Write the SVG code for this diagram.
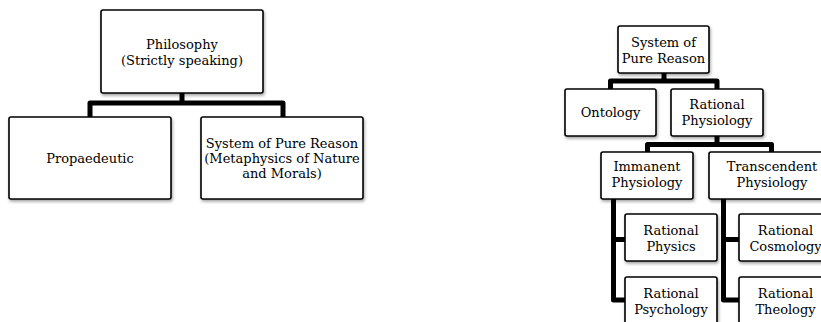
<svg xmlns="http://www.w3.org/2000/svg" width="821" height="322" viewBox="0 0 821 322">
<style>
.box{fill:#fff;stroke:#000;stroke-width:1.6;filter:url(#sh)}
.t{font-family:"DejaVu Serif","Liberation Serif",serif;font-size:13px;fill:#000;text-anchor:middle}
.c{fill:none;stroke:#000;stroke-width:5;stroke-linejoin:round;stroke-linecap:butt}
</style>
<defs>
<filter id="sh" x="-10%" y="-10%" width="130%" height="140%">
<feDropShadow dx="1" dy="2" stdDeviation="1.5" flood-color="#000" flood-opacity="0.35"/>
</filter>
</defs>
<rect width="821" height="322" fill="#fff"/>
<g id="connectors">
<path class="c" d="M182 93V103M90 117V103H283V117"/>
<path class="c" d="M664 73V81M610.5 89V81H717V89"/>
<path class="c" d="M717 136V144.5M647.5 152V144.5H771.5V152"/>
<path class="c" d="M613.5 199V300H625M613.5 239.5H625"/>
<path class="c" d="M723.5 199V300H739M723.5 239.5H739"/>
</g>
<g id="philosophy">
<rect class="box" x="101" y="10" width="162" height="83" rx="2"/>
<text class="t" x="182" y="49">Philosophy</text>
<text class="t" x="182" y="65">(Strictly speaking)</text>
</g>
<g id="propaedeutic">
<rect class="box" x="9" y="117" width="162" height="82" rx="2"/>
<text class="t" x="90" y="163">Propaedeutic</text>
</g>
<g id="system-left">
<rect class="box" x="201" y="117" width="162" height="82" rx="2"/>
<text class="t" x="282" y="148">System of Pure Reason</text>
<text class="t" x="282" y="163">(Metaphysics of Nature</text>
<text class="t" x="282" y="178">and Morals)</text>
</g>
<g id="system-right">
<rect class="box" x="618" y="26" width="91" height="47" rx="2"/>
<text class="t" x="663.5" y="47">System of</text>
<text class="t" x="663.5" y="63">Pure Reason</text>
</g>
<g id="ontology">
<rect class="box" x="565" y="89" width="91" height="47" rx="2"/>
<text class="t" x="610.5" y="117">Ontology</text>
</g>
<g id="rational-physiology">
<rect class="box" x="671" y="89" width="92" height="47" rx="2"/>
<text class="t" x="717" y="109">Rational</text>
<text class="t" x="717" y="125">Physiology</text>
</g>
<g id="immanent">
<rect class="box" x="601" y="152" width="92" height="47" rx="2"/>
<text class="t" x="647" y="171">Immanent</text>
<text class="t" x="647" y="187">Physiology</text>
</g>
<g id="transcendent">
<rect class="box" x="709" y="152" width="126" height="47" rx="2"/>
<text class="t" x="772" y="171">Transcendent</text>
<text class="t" x="772" y="187">Physiology</text>
</g>
<g id="rational-physics">
<rect class="box" x="625" y="214" width="92" height="47" rx="2"/>
<text class="t" x="671" y="235">Rational</text>
<text class="t" x="671" y="251">Physics</text>
</g>
<g id="rational-psychology">
<rect class="box" x="625" y="277" width="92" height="48" rx="2"/>
<text class="t" x="671" y="298">Rational</text>
<text class="t" x="671" y="314">Psychology</text>
</g>
<g id="rational-cosmology">
<rect class="box" x="739" y="214" width="93" height="47" rx="2"/>
<text class="t" x="785.5" y="235">Rational</text>
<text class="t" x="785.5" y="251">Cosmology</text>
</g>
<g id="rational-theology">
<rect class="box" x="739" y="277" width="93" height="48" rx="2"/>
<text class="t" x="785.5" y="298">Rational</text>
<text class="t" x="785.5" y="314">Theology</text>
</g>
</svg>
